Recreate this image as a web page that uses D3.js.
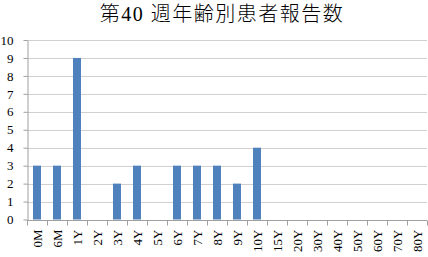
<!DOCTYPE html>
<html><head><meta charset="utf-8">
<script src="https://cdn.jsdelivr.net/npm/d3@7"></script>
<style>body{margin:0;background:#fff} svg text{font-family:"Liberation Serif","Times New Roman","DejaVu Serif",serif;}
.ttl{font-family:"Liberation Serif","Times New Roman",serif,"Noto Sans CJK JP";}</style>
</head><body>
<svg id="c" width="428" height="257"></svg>
<script>
const title = "第40 週年齢別患者報告数";
const categories = ["0M","6M","1Y","2Y","3Y","4Y","5Y","6Y","7Y","8Y","9Y","10Y","15Y","20Y","30Y","40Y","50Y","60Y","70Y","80Y"];
const values = [3,3,9,0,2,3,0,3,3,3,2,4,0,0,0,0,0,0,0,0];
const yTicks = [0,1,2,3,4,5,6,7,8,9,10];

const svg = d3.select("#c");
const m = {l:27, r:1, t:40, b:38};
const W = 428, H = 257;
const x = d3.scaleBand().domain(categories).range([m.l, W - m.r]).paddingInner(0.6).paddingOuter(0.3);
const y = d3.scaleLinear().domain([0,10]).range([219.5, 40]);

svg.append("text").attr("class","ttl").attr("x", 222).attr("y", 21).attr("text-anchor","middle")
  .attr("font-size", 20).attr("letter-spacing", 1.5).attr("font-weight", 300).attr("fill","#000").text(title);

// gridlines
svg.append("g").selectAll("line").data(yTicks.filter(d=>d>0)).join("line")
  .attr("x1", m.l).attr("x2", W - m.r).attr("y1", d=>Math.round(y(d))+0.5).attr("y2", d=>Math.round(y(d))+0.5)
  .attr("stroke","#d0d0d0").attr("stroke-width",1);

// bars
svg.append("g").selectAll("rect").data(values).join("rect")
  .attr("x",(d,i)=>x(categories[i])).attr("width", x.bandwidth())
  .attr("y", d=>y(d)).attr("height", d=>y(0)-y(d))
  .attr("fill","#4f81bd");

// y axis
const ya = svg.append("g").attr("transform",`translate(${m.l+0.5},0)`)
  .call(d3.axisLeft(y).tickValues(yTicks).tickSize(4).tickPadding(10).tickSizeOuter(0));
ya.attr("font-family", null);
ya.select(".domain").attr("stroke","#a0a0a0");
ya.selectAll(".tick line").attr("stroke","#a0a0a0");
ya.selectAll("text").attr("font-size", 13).attr("fill","#000");

// x axis
const step = x.step();
const xa = svg.append("g").attr("transform",`translate(0,${Math.round(y(0))+0.5})`);
xa.append("line").attr("x1", m.l).attr("x2", W - m.r).attr("stroke","#a0a0a0");
const bounds = d3.range(categories.length+1).map(i=>m.l + i*step);
xa.selectAll("line.tk").data(bounds).join("line").attr("class","tk")
  .attr("x1", d=>Math.round(d)+0.5).attr("x2", d=>Math.round(d)+0.5).attr("y1",0).attr("y2",5)
  .attr("stroke","#a0a0a0");
xa.selectAll("text").data(categories).join("text")
  .attr("transform", d=>`translate(${x(d)+x.bandwidth()/2+4.5},9) rotate(-90)`)
  .attr("text-anchor","end").attr("font-size", 13).attr("fill","#000")
  .text(d=>d);
</script>
</body></html>
